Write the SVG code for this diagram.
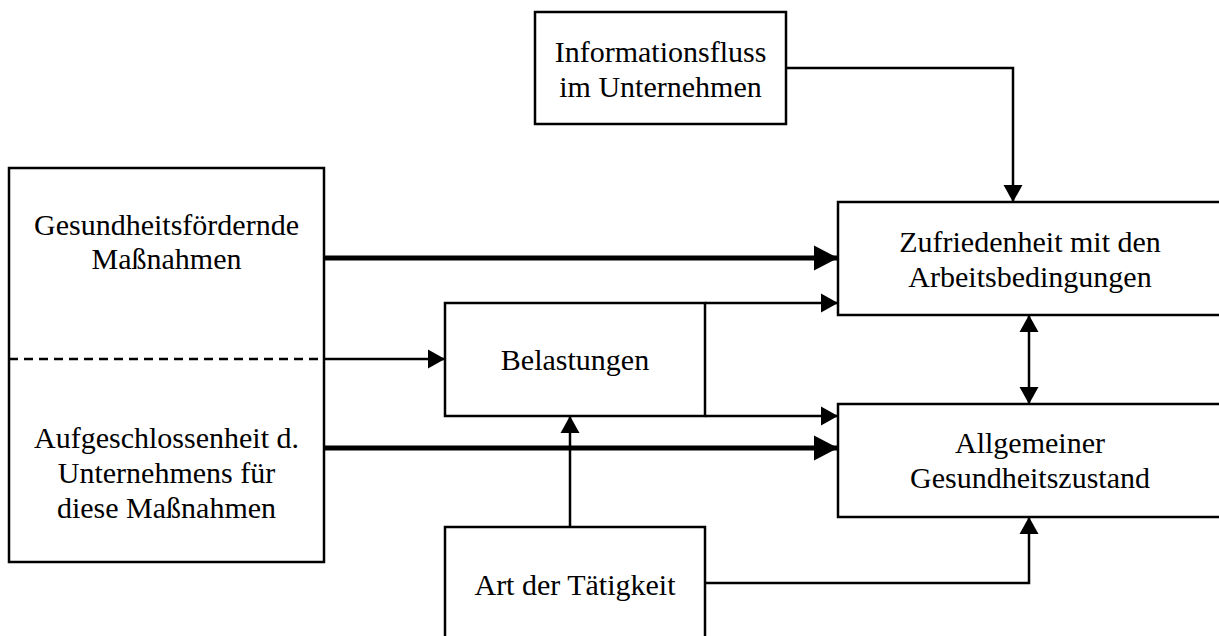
<svg xmlns="http://www.w3.org/2000/svg" width="1219" height="636" viewBox="0 0 1219 636">
<defs>
<style>
.box{fill:#fff;stroke:#000;stroke-width:2.5}
.t{font-family:"Liberation Serif","Times New Roman",serif;font-size:30px;fill:#000;text-anchor:middle}
.c{fill:none;stroke:#000;stroke-width:2.5}
.thick{fill:none;stroke:#000;stroke-width:5}
.dash{fill:none;stroke:#000;stroke-width:2.5;stroke-dasharray:9 6}
</style>
<marker id="a" markerUnits="userSpaceOnUse" markerWidth="18" markerHeight="20" refX="17" refY="9.5" orient="auto" overflow="visible">
<path d="M0,0 L17,9.5 L0,19 z" fill="#000"/>
</marker>
<marker id="as" markerUnits="userSpaceOnUse" markerWidth="18" markerHeight="20" refX="17" refY="9.5" orient="auto-start-reverse" overflow="visible">
<path d="M0,0 L17,9.5 L0,19 z" fill="#000"/>
</marker>
<marker id="b" markerUnits="userSpaceOnUse" markerWidth="25" markerHeight="26" refX="24" refY="12.5" orient="auto" overflow="visible">
<path d="M0,0 L24,12.5 L0,25 z" fill="#000"/>
</marker>
</defs>
<rect width="1219" height="636" fill="#fff"/>

<g id="node-massnahmen">
<rect class="box" x="9" y="168" width="315" height="394"/>
<path class="dash" d="M9,359 H324"/>
<text class="t" x="166.5" y="235">Gesundheitsfördernde</text>
<text class="t" x="166.5" y="269">Maßnahmen</text>
<text class="t" x="166.5" y="448">Aufgeschlossenheit d.</text>
<text class="t" x="166.5" y="483">Unternehmens für</text>
<text class="t" x="166.5" y="518">diese Maßnahmen</text>
</g>

<g id="node-informationsfluss">
<rect class="box" x="535" y="12" width="251" height="112"/>
<text class="t" x="660.5" y="62">Informationsfluss</text>
<text class="t" x="660.5" y="97">im Unternehmen</text>
</g>

<g id="node-belastungen">
<rect class="box" x="445" y="303" width="260" height="113"/>
<text class="t" x="575" y="370">Belastungen</text>
</g>

<g id="node-taetigkeit">
<rect class="box" x="445" y="527" width="260" height="115"/>
<text class="t" x="575" y="595">Art der Tätigkeit</text>
</g>

<g id="node-zufriedenheit">
<rect class="box" x="838" y="202" width="384" height="113"/>
<text class="t" x="1030" y="252">Zufriedenheit mit den</text>
<text class="t" x="1030" y="287">Arbeitsbedingungen</text>
</g>

<g id="node-gesundheitszustand">
<rect class="box" x="838" y="404" width="384" height="113"/>
<text class="t" x="1030" y="453">Allgemeiner</text>
<text class="t" x="1030" y="488">Gesundheitszustand</text>
</g>

<g id="connectors">
<path class="thick" d="M324,258 H838" marker-end="url(#b)"/>
<path class="thick" d="M324,448 H838" marker-end="url(#b)"/>
<path class="c" d="M324,359 H445" marker-end="url(#a)"/>
<path class="c" d="M705,303 H838" marker-end="url(#a)"/>
<path class="c" d="M705,416 H838" marker-end="url(#a)"/>
<path class="c" d="M570,527 V416" marker-end="url(#a)"/>
<path class="c" d="M705,583 H1029 V517" marker-end="url(#a)"/>
<path class="c" d="M786,68 H1013 V202" marker-end="url(#a)"/>
<path class="c" d="M1029,315 V404" marker-start="url(#as)" marker-end="url(#as)"/>
</g>
</svg>
